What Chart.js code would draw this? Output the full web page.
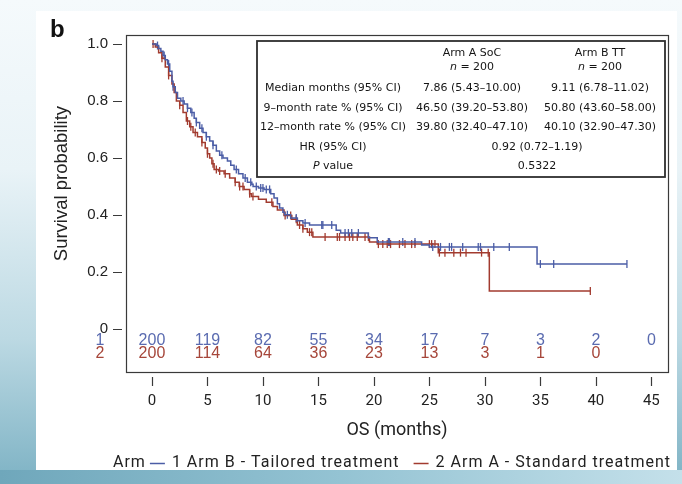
<!DOCTYPE html>
<html>
<head>
<meta charset="utf-8">
<script src="https://cdn.jsdelivr.net/npm/chart.js@4.4.1/dist/chart.umd.min.js"></script>
<style>
  html, body { margin: 0; padding: 0; }
  body {
    width: 682px; height: 484px; overflow: hidden; position: relative;
    background: linear-gradient(to bottom, #f5fafc 0%, #e9f3f7 35%, #bcd9e3 70%, #7db2c4 100%);
  }
  #strip { position: absolute; left: 0; top: 470px; width: 682px; height: 14px;
    background: linear-gradient(to right, #6fa7bb 0%, #94c3d3 50%, #c4e0ea 100%); }
  #panel { position: absolute; left: 36px; top: 11px; width: 641px; height: 459px; background: #fff; }
  #km { position: absolute; left: 0; top: 0; }
</style>
</head>
<body>
<div id="strip"></div>
<div id="panel"></div>
<canvas id="km" width="682" height="484"></canvas>
<script>
// Kaplan-Meier steps: time (months) and survival after each event
const armBTimes = [0, 0.4, 0.6, 0.8, 1.0, 1.2, 1.4, 1.6, 1.8, 1.9, 2.1, 2.3, 2.6, 2.9, 3.2, 3.5, 3.8, 4.0, 4.3, 4.6, 4.9,
  5.2, 5.5, 5.8, 6.1, 6.4, 6.8, 7.1, 7.4, 7.8, 8.2, 8.6, 9.0, 9.11, 9.6, 10.1, 10.7, 11.0, 11.3, 11.5, 11.8, 11.95,
  12.5, 13.1, 13.6, 14.2, 16.6, 17.0, 19.5, 20.3, 24.3, 25.0, 34.7, 42.8];
const armBSurv = [1, 0.995, 0.985, 0.975, 0.96, 0.945, 0.93, 0.905, 0.87, 0.85, 0.83, 0.81, 0.8, 0.79, 0.775, 0.76, 0.74, 0.725, 0.705, 0.69, 0.675,
  0.66, 0.645, 0.625, 0.61, 0.6, 0.59, 0.575, 0.56, 0.545, 0.53, 0.515, 0.508, 0.5, 0.495, 0.49, 0.475, 0.46, 0.44, 0.425, 0.41, 0.401,
  0.39, 0.38, 0.372, 0.365, 0.347, 0.337, 0.32, 0.305, 0.295, 0.288, 0.228, 0.228];
const armBCensored = [0.5, 1.1, 1.5, 1.9, 2.8, 3.2, 3.6, 4.0, 4.5, 4.9, 5.5, 6.3, 7.6, 8.4, 8.9, 9.4, 9.8, 10.0, 10.3, 10.6,
  12.2, 13.0, 13.8, 15.3, 15.4, 16.2, 17.4, 17.7, 18.0, 18.6, 21.3, 21.4, 22.6, 23.7, 25.3, 26.0, 26.8, 27.0, 28.0,
  29.4, 29.6, 30.8, 32.2, 35.0, 36.2, 42.8];

const armATimes = [0, 0.3, 0.6, 0.9, 1.2, 1.5, 1.8, 2.0, 2.2, 2.5, 2.8, 3.1, 3.4, 3.7, 4.1, 4.5, 4.8, 5.0, 5.2, 5.4, 5.6,
  6.0, 6.5, 7.0, 7.5, 7.86, 8.3, 8.8, 8.95, 9.6, 10.3, 10.9, 11.3, 11.9, 12.6, 13.1, 13.6, 14.0, 14.5, 19.6, 20.3,
  25.8, 30.4, 39.5];
const armASurv = [1, 0.99, 0.97, 0.95, 0.92, 0.89, 0.86, 0.83, 0.8, 0.785, 0.76, 0.73, 0.71, 0.69, 0.675, 0.655, 0.635, 0.615, 0.6, 0.58, 0.56,
  0.555, 0.545, 0.53, 0.515, 0.5, 0.49, 0.475, 0.465, 0.455, 0.445, 0.43, 0.418, 0.398, 0.385, 0.365, 0.352, 0.34, 0.323, 0.305, 0.298,
  0.268, 0.133, 0.133];
const armACensored = [0.1, 0.9, 1.5, 2.5, 3.2, 3.5, 3.9, 4.5, 5.0, 5.5, 5.8, 6.1, 6.6, 7.5, 7.9, 8.2, 8.8, 9.1, 10.8, 12.0,
  12.5, 13.0, 13.3, 13.6, 14.2, 14.4, 15.6, 16.7, 16.9, 17.4, 17.8, 18.1, 18.5, 19.2, 19.5, 20.4, 20.8, 21.2, 21.5,
  22.3, 22.8, 23.4, 23.7, 25.0, 25.2, 25.5, 25.9, 26.4, 27.2, 27.8, 28.3, 29.7, 30.3, 39.5];

// numbers at risk
const riskTimes = [0, 5, 10, 15, 20, 25, 30, 35, 40, 45];
const riskArmB = [200, 119, 82, 55, 34, 17, 7, 3, 2, 0];
const riskArmA = [200, 114, 64, 36, 23, 13, 3, 1, 0];

const xTicks = [0, 5, 10, 15, 20, 25, 30, 35, 40, 45];
const yTicks = [0, 0.2, 0.4, 0.6, 0.8, 1.0];

// summary table
const tableHead = [['Arm A SoC', 'Arm B TT']];
const tableRows = [
  ['Median months (95% CI)', '7.86 (5.43–10.00)', '9.11 (6.78–11.02)'],
  ['9–month rate % (95% CI)', '46.50 (39.20–53.80)', '50.80 (43.60–58.00)'],
  ['12–month rate % (95% CI)', '39.80 (32.40–47.10)', '40.10 (32.90–47.30)'],
  ['HR (95% CI)', '0.92 (0.72–1.19)'],
  ['P value', '0.5322']
];
const armN = [200, 200];

const BLUE = '#4b5da6';
const RED = '#a23b2f';
const BLUE_TXT = '#5a6bb0';
const RED_TXT = '#a6463a';

function toPoints(times, surv) {
  return times.map((t, i) => ({ x: t, y: surv[i] }));
}
function survAt(times, surv, t) {
  let s = surv[0];
  for (let i = 0; i < times.length; i++) {
    if (times[i] <= t) s = surv[i];
  }
  return s;
}
function censorPoints(times, surv, cens) {
  return cens.map(t => ({ x: t, y: survAt(times, surv, t) }));
}

const kmDecor = {
  id: 'kmDecor',
  afterDraw(chart) {
    const { ctx, chartArea: a, scales: { x, y } } = chart;
    ctx.save();

    // frame and outside tick marks
    ctx.strokeStyle = '#3a3a3a';
    ctx.lineWidth = 1.2;
    ctx.strokeRect(a.left + 0.5, a.top + 0.5, a.right - a.left, a.bottom - a.top);
    ctx.beginPath();
    y.ticks.forEach(t => {
      const py = Math.round(y.getPixelForValue(t.value)) + 0.5;
      ctx.moveTo(a.left - 13, py); ctx.lineTo(a.left - 4, py);
    });
    x.ticks.forEach(t => {
      const px = Math.round(x.getPixelForValue(t.value)) + 0.5;
      ctx.moveTo(px, a.bottom + 5); ctx.lineTo(px, a.bottom + 14);
    });
    ctx.stroke();

    // numbers at risk inside the frame, under the zero line
    const y0 = y.getPixelForValue(0);
    ctx.font = '16px "Liberation Sans", Arial, sans-serif';
    ctx.textAlign = 'center';
    ctx.textBaseline = 'middle';
    ctx.fillStyle = BLUE_TXT;
    ctx.fillText('1', a.left - 26, y0 + 12);
    riskArmB.forEach((n, i) => ctx.fillText(String(n), x.getPixelForValue(riskTimes[i]), y0 + 12));
    ctx.fillStyle = RED_TXT;
    ctx.fillText('2', a.left - 26, y0 + 25);
    riskArmA.forEach((n, i) => ctx.fillText(String(n), x.getPixelForValue(riskTimes[i]), y0 + 25));

    // y axis title
    ctx.save();
    ctx.translate(62, (y.getPixelForValue(0) + y.getPixelForValue(1)) / 2 - 3);
    ctx.rotate(-Math.PI / 2);
    ctx.fillStyle = '#222';
    ctx.font = '18.5px "Liberation Sans", Arial, sans-serif';
    ctx.fillText('Survival probability', 0, 0);
    ctx.restore();

    // panel letter
    ctx.fillStyle = '#111';
    ctx.textAlign = 'left';
    ctx.textBaseline = 'alphabetic';
    ctx.font = 'bold 24px "Liberation Sans", Arial, sans-serif';
    ctx.fillText('b', 50, 37);

    // summary table
    const tb = { l: 257, t: 41, r: 665, b: 177 };
    ctx.strokeStyle = '#2e2e2e';
    ctx.lineWidth = 1.8;
    ctx.strokeRect(tb.l, tb.t, tb.r - tb.l, tb.b - tb.t);
    const cLab = 333, cA = 472, cB = 600, cAB = 537;
    const tf = '11px "DejaVu Sans", sans-serif';
    const tfi = 'italic 11px "DejaVu Sans", sans-serif';
    ctx.fillStyle = '#151515';
    ctx.textAlign = 'center';
    ctx.textBaseline = 'middle';
    ctx.font = tf;
    ctx.fillText(tableHead[0][0], cA, 53);
    ctx.fillText(tableHead[0][1], cB, 53);
    // "n = 200" with italic n
    [cA, cB].forEach((cx, i) => {
      ctx.font = tfi; const wn = ctx.measureText('n').width;
      ctx.font = tf; const rest = ' = ' + armN[i]; const wr = ctx.measureText(rest).width;
      const x0 = cx - (wn + wr) / 2;
      ctx.textAlign = 'left';
      ctx.font = tfi; ctx.fillText('n', x0, 67);
      ctx.font = tf; ctx.fillText(rest, x0 + wn, 67);
      ctx.textAlign = 'center';
    });
    const rowY = [88, 108, 127, 147, 166];
    tableRows.forEach((row, i) => {
      ctx.font = tf;
      if (row[0] === 'P value') {
        ctx.font = tfi; const wp = ctx.measureText('P').width;
        ctx.font = tf; const wv = ctx.measureText(' value').width;
        const x0 = cLab - (wp + wv) / 2;
        ctx.textAlign = 'left';
        ctx.font = tfi; ctx.fillText('P', x0, rowY[i]);
        ctx.font = tf; ctx.fillText(' value', x0 + wp, rowY[i]);
        ctx.textAlign = 'center';
      } else {
        ctx.fillText(row[0], cLab, rowY[i]);
      }
      if (row.length === 3) {
        ctx.fillText(row[1], cA, rowY[i]);
        ctx.fillText(row[2], cB, rowY[i]);
      } else {
        ctx.fillText(row[1], cAB, rowY[i]);
      }
    });

    // legend along the bottom
    const ly = 463;
    ctx.font = '16px Roboto, sans-serif';
    ctx.letterSpacing = '1px';
    ctx.textAlign = 'left';
    ctx.fillStyle = '#222';
    let lx = 113;
    ctx.fillText('Arm', lx, ly);
    lx += ctx.measureText('Arm').width + 4;
    chart.data.datasets.slice(0, 2).forEach((ds, i) => {
      ctx.strokeStyle = ds.borderColor;
      ctx.lineWidth = 1.5;
      ctx.beginPath(); ctx.moveTo(lx, ly + 0.5); ctx.lineTo(lx + 15, ly + 0.5); ctx.stroke();
      lx += 22;
      ctx.fillStyle = '#222';
      ctx.fillText(ds.label, lx, ly);
      lx += ctx.measureText(ds.label).width + 14;
    });

    ctx.restore();
  }
};

new Chart(document.getElementById('km'), {
  type: 'line',
  data: {
    datasets: [
      { label: '1 Arm B - Tailored treatment', data: toPoints(armBTimes, armBSurv), borderColor: BLUE,
        borderWidth: 1.5, stepped: 'before', pointRadius: 0, fill: false },
      { label: '2 Arm A - Standard treatment', data: toPoints(armATimes, armASurv), borderColor: RED,
        borderWidth: 1.5, stepped: 'before', pointRadius: 0, fill: false },
      { label: 'censored B', data: censorPoints(armBTimes, armBSurv, armBCensored), showLine: false,
        pointStyle: 'line', pointRotation: 90, pointRadius: 4, pointBorderColor: BLUE, pointBorderWidth: 1.3, borderColor: BLUE },
      { label: 'censored A', data: censorPoints(armATimes, armASurv, armACensored), showLine: false,
        pointStyle: 'line', pointRotation: 90, pointRadius: 4, pointBorderColor: RED, pointBorderWidth: 1.3, borderColor: RED }
    ]
  },
  options: {
    responsive: false,
    animation: false,
    layout: { padding: { top: 35, right: 14, left: 0, bottom: 0 } },
    plugins: { legend: { display: false }, tooltip: { enabled: false } },
    scales: {
      x: {
        type: 'linear', min: -2.34, max: 46.5,
        afterBuildTicks: s => { s.ticks = xTicks.map(v => ({ value: v })); },
        afterFit: s => { s.height = 112; },
        grid: { display: false, drawTicks: false },
        border: { display: false },
        ticks: { padding: 20, autoSkip: false, maxRotation: 0, color: '#222',
          font: { family: 'Roboto', size: 15 } },
        title: { display: true, text: 'OS (months)', color: '#222',
          font: { family: 'Roboto', size: 18 }, padding: { top: 0, bottom: 43 } }
      },
      y: {
        type: 'linear', min: -0.151, max: 1.032,
        afterBuildTicks: s => { s.ticks = yTicks.map(v => ({ value: v })); },
        afterFit: s => { s.width = 126; },
        grid: { display: false, drawTicks: false },
        border: { display: false },
        ticks: { padding: 18, color: '#222', font: { family: 'Liberation Sans', size: 15 },
          callback: v => (v === 0 ? '0' : v.toFixed(1)) }
      }
    }
  },
  plugins: [kmDecor]
});
</script>
</body>
</html>
